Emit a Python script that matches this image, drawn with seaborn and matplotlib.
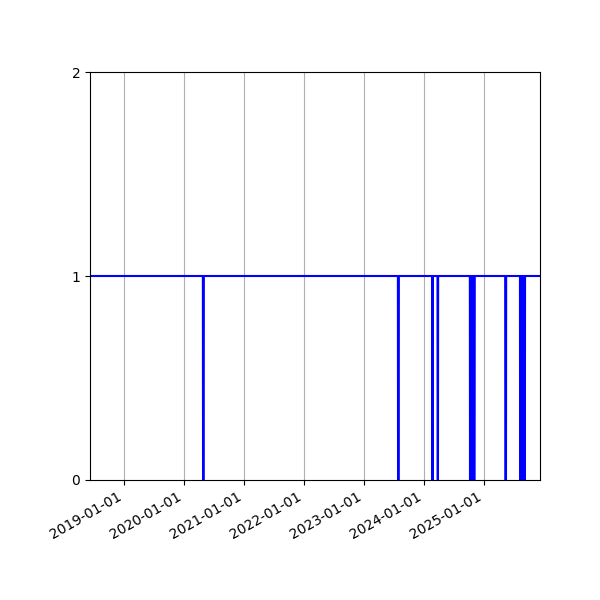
import pandas as pd
import seaborn as sns
import matplotlib.pyplot as plt
import matplotlib.dates as mdates

# range of the series
start_date = "2018-06-08"
end_date = "2025-12-07"

# short periods where the series drops to 0
dip_starts = ["2020-04-26", "2023-07-27", "2024-02-20", "2024-03-24", "2025-05-10"]
dip_ends = ["2020-04-30", "2023-07-31", "2024-02-23", "2024-03-26", "2025-05-14"]

# single days at 0 inside the two dense bursts (autumn 2024, late summer 2025)
burst_days = ["2024-10-07", "2024-10-10", "2024-10-14", "2024-10-17", "2024-10-21",
              "2024-10-24", "2024-10-28", "2024-10-31", "2024-11-02",
              "2025-08-08", "2025-08-11", "2025-08-15", "2025-08-18", "2025-08-22",
              "2025-08-25", "2025-08-29", "2025-09-01", "2025-09-04", "2025-09-06"]

days = pd.date_range(start_date, end_date, freq="D")
df = pd.DataFrame({"date": days, "value": 1})
for s, e in zip(dip_starts, dip_ends):
    df.loc[(df["date"] >= s) & (df["date"] <= e), "value"] = 0
df.loc[df["date"].isin(pd.to_datetime(burst_days)), "value"] = 0

fig, ax = plt.subplots(figsize=(6, 6), dpi=100)
sns.lineplot(data=df, x="date", y="value", color="blue", linewidth=1.5,
             estimator=None, ax=ax)

ax.set_xlim(days[0], days[-1])
ax.set_ylim(0, 2)
ax.set_yticks([0, 1, 2])
ax.xaxis.set_major_locator(mdates.YearLocator())
ax.xaxis.set_major_formatter(mdates.DateFormatter("%Y-%m-%d"))
ax.grid(axis="x")
ax.set_xlabel("")
ax.set_ylabel("")
fig.autofmt_xdate()
fig.subplots_adjust(left=0.15, right=0.9, top=0.88, bottom=0.2)

fig.savefig("out.png")
